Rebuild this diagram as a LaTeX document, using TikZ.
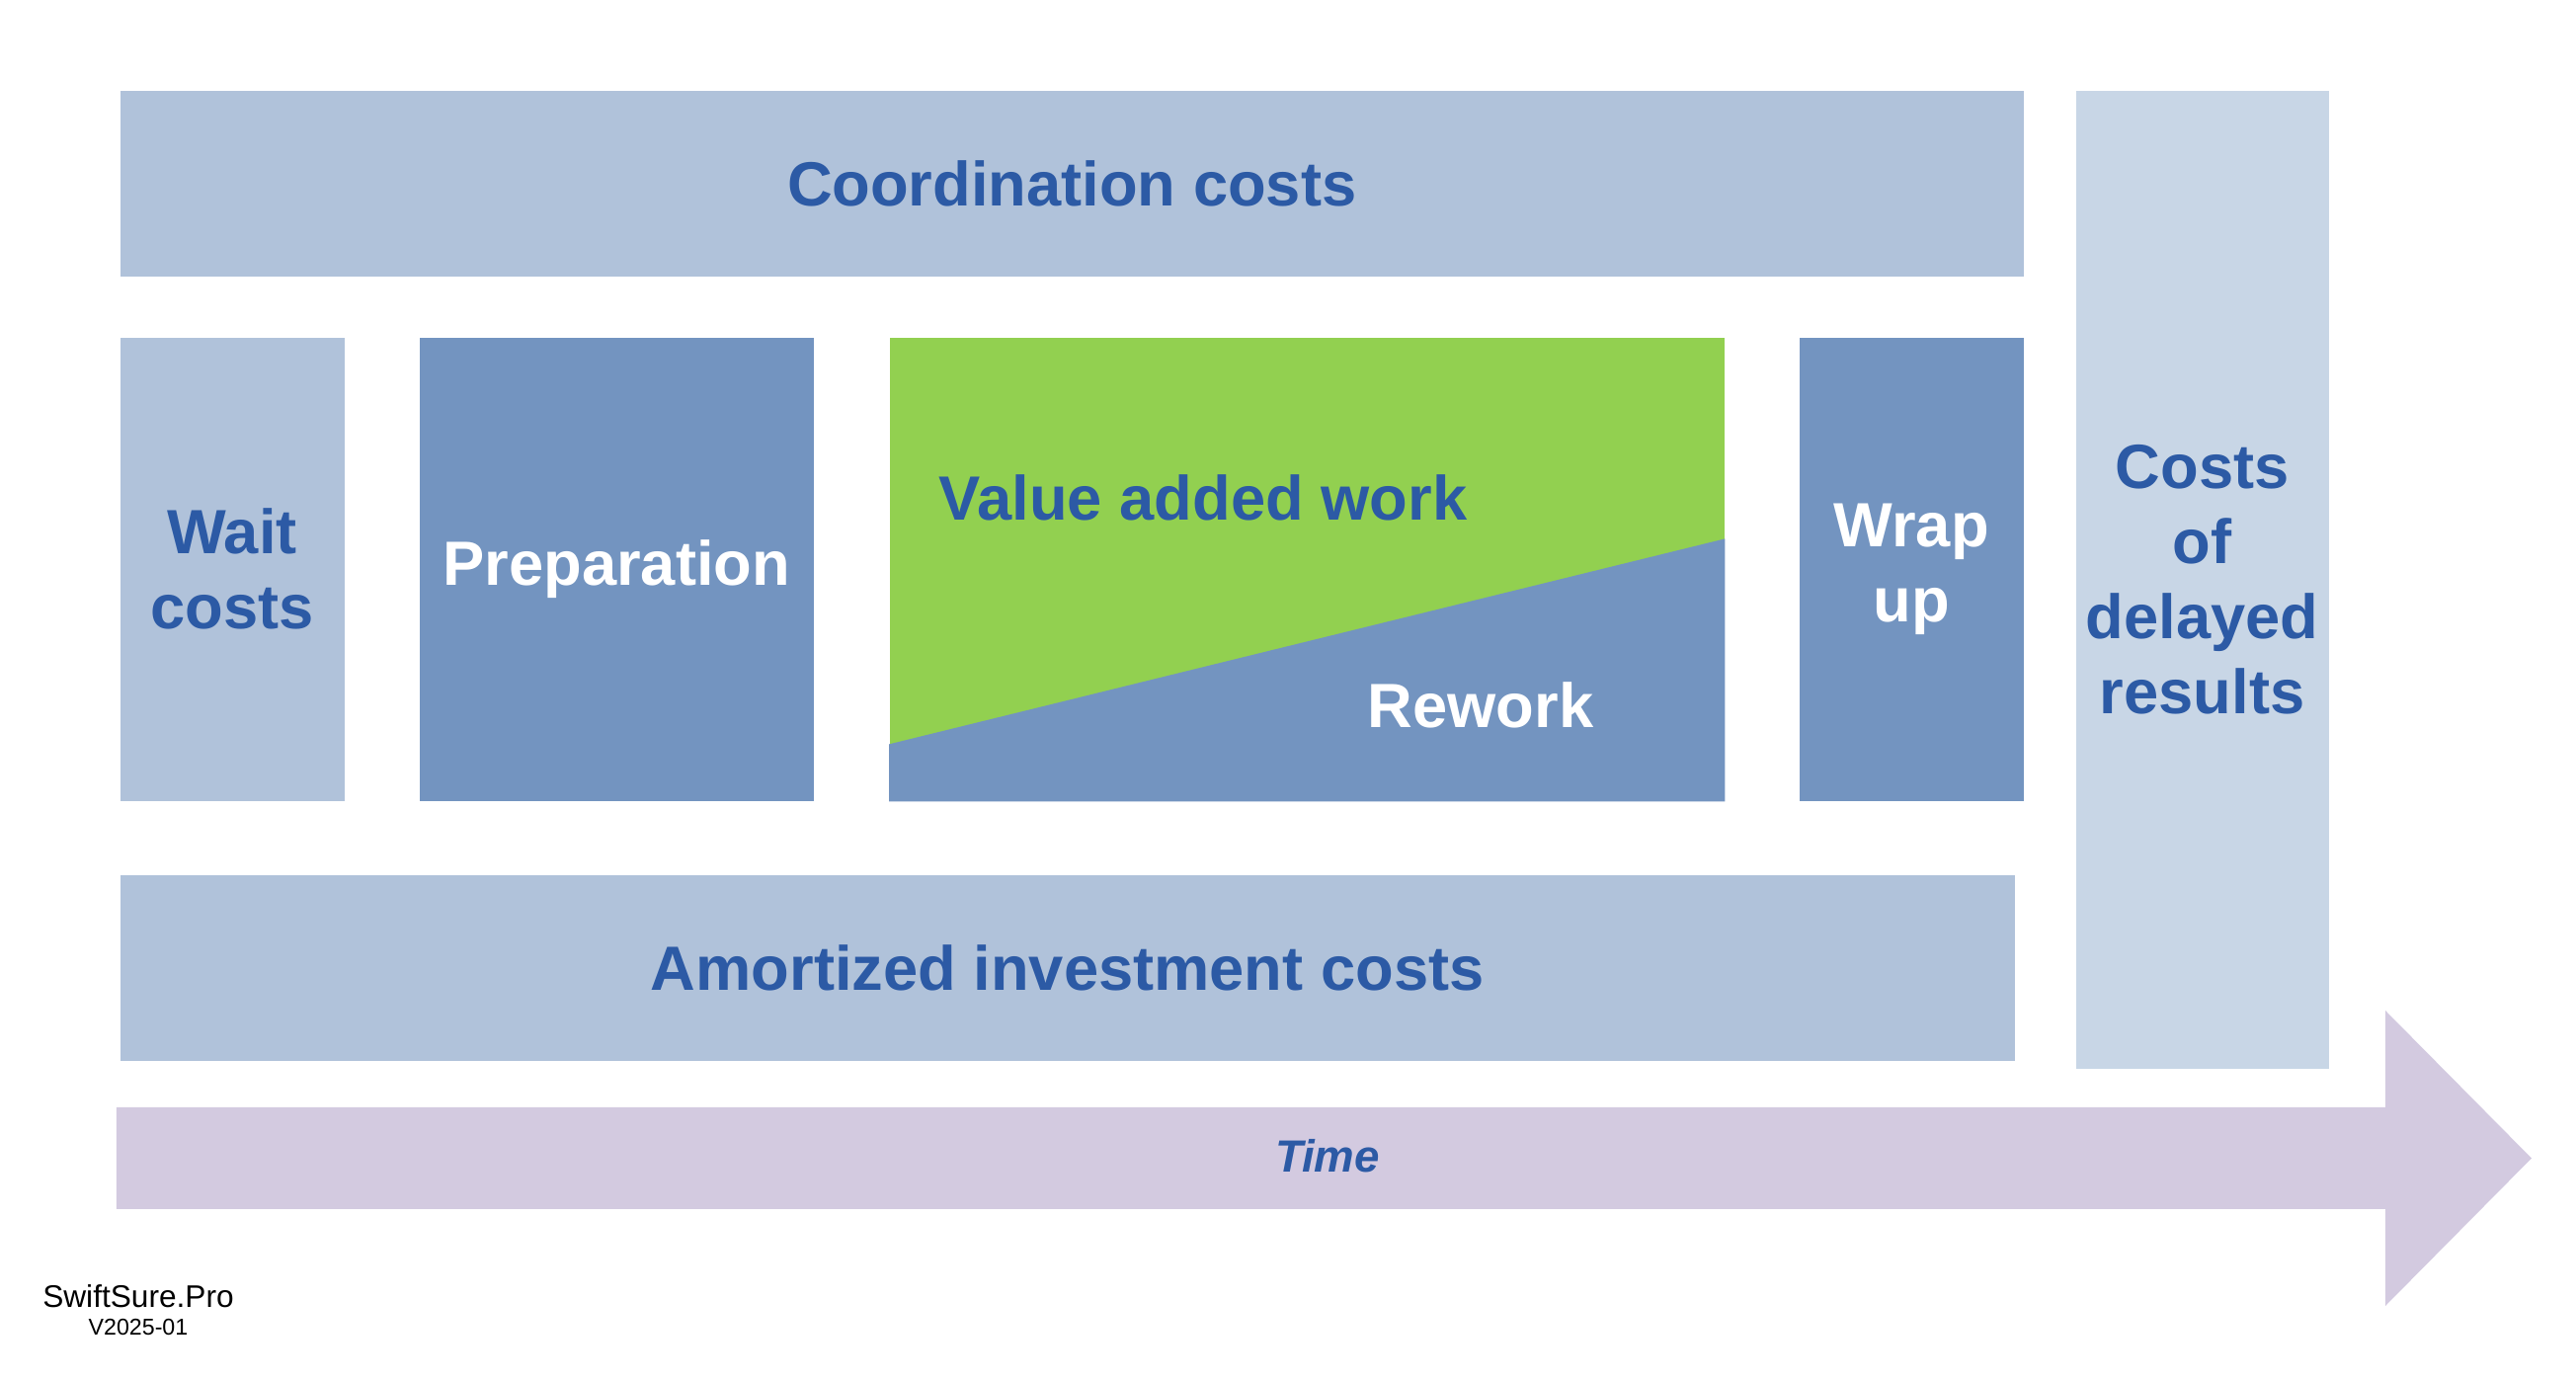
\documentclass[tikz,border=0pt]{standalone}
\usepackage{fontspec}
\setmainfont{Liberation Sans}
\definecolor{costblue}{RGB}{176,194,218}
\definecolor{delayblue}{RGB}{200,214,230}
\definecolor{workblue}{RGB}{115,148,192}
\definecolor{valuegreen}{RGB}{146,208,80}
\definecolor{textblue}{RGB}{44,90,165}
\definecolor{timelilac}{RGB}{211,202,224}
\tikzset{
  block/.style={rectangle, anchor=north west, inner sep=0pt, align=center,
    font=\fontsize{18}{21.6}\selectfont\bfseries},
  costbox/.style={block, fill=costblue, text=textblue},
  workbox/.style={block, fill=workblue, text=white},
}
\begin{document}
\begin{tikzpicture}
            \useasboundingbox (0,0) rectangle (26.08,-13.98);
            % top and bottom cost bars
            \node[costbox, minimum width=19.27cm, minimum height=1.88cm] (coord) at (1.21,-0.91) {Coordination costs};
            \node[costbox, minimum width=19.18cm, minimum height=1.88cm] (amort) at (1.21,-8.85) {Amortized investment costs};
            % right column
            \node[costbox, fill=delayblue, minimum width=2.56cm, minimum height=9.90cm] (delay) at (21.01,-0.91) {Costs\\of\\delayed\\results};
            % middle row, 4 blocks
            \node[costbox, minimum width=2.27cm, minimum height=4.69cm] (wait) at (1.21,-3.41) {Wait\\costs};
            \node[workbox, minimum width=3.99cm, minimum height=4.69cm] (prep) at (4.24,-3.41) {Preparation};
            \node[block, fill=valuegreen, minimum width=8.45cm, minimum height=4.69cm] (value) at (9.00,-3.41) {};
            \node[workbox, minimum width=2.27cm, minimum height=4.69cm] (wrap) at (18.21,-3.41) {Wrap\\up};
            % rework wedge in the value block
            \fill[workblue] (value.south west) -- ([yshift=0.58cm]value.south west) -- ([yshift=2.66cm]value.south east) -- (value.south east) -- cycle;
            \node[font=\fontsize{18}{21.6}\selectfont\bfseries, text=textblue] (valtext) at (12.18,-5.04) {Value added work};
            \node[font=\fontsize{18}{21.6}\selectfont\bfseries, text=white] (rework) at (14.99,-7.14) {Rework};
            % time arrow
            \fill[timelilac] (1.18,-11.21) -- (24.15,-11.21) -- (24.15,-10.23) -- (25.63,-11.725)
              -- (24.15,-13.22) -- (24.15,-12.24) -- (1.18,-12.24) -- cycle;
            \node[font=\fontsize{13}{15}\selectfont\bfseries\itshape, text=textblue] (time) at (13.44,-11.70) {Time};
            % label bottom left
            \node[font=\fontsize{9}{11}\selectfont] (brand) at (1.40,-13.12) {SwiftSure.Pro};
            \node[font=\fontsize{6.6}{8}\selectfont] (version) at (1.40,-13.44) {V2025-01};
        \end{tikzpicture}
\end{document}
